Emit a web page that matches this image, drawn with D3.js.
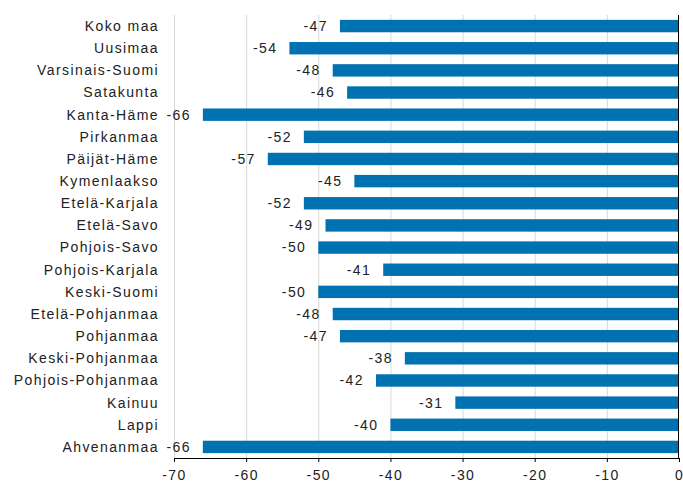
<!DOCTYPE html>
<html>
<head>
<meta charset="utf-8">
<script src="https://cdn.jsdelivr.net/npm/d3@7"></script>
<style>
  body { margin: 0; background: #fff; }
  text { font-family: "Liberation Sans", Arial, sans-serif; letter-spacing: 1.4px; }
</style>
</head>
<body>
<div id="chart"></div>
<script>
  // data
  const regions = [
    "Koko maa", "Uusimaa", "Varsinais-Suomi", "Satakunta", "Kanta-Häme",
    "Pirkanmaa", "Päijät-Häme", "Kymenlaakso", "Etelä-Karjala", "Etelä-Savo",
    "Pohjois-Savo", "Pohjois-Karjala", "Keski-Suomi", "Etelä-Pohjanmaa",
    "Pohjanmaa", "Keski-Pohjanmaa", "Pohjois-Pohjanmaa", "Kainuu", "Lappi",
    "Ahvenanmaa"
  ];
  const values = [-47, -54, -48, -46, -66, -52, -57, -45, -52, -49,
    -50, -41, -50, -48, -47, -38, -42, -31, -40, -66];
  const xTicks = [-70, -60, -50, -40, -30, -20, -10, 0];

  const width = 683, height = 484;
  const margin = { top: 15, right: 4, bottom: 26, left: 174 };

  const svg = d3.select("#chart").append("svg")
    .attr("width", width)
    .attr("height", height);

  const x = d3.scaleLinear()
    .domain([-70, 0])
    .range([margin.left, width - margin.right]);

  const y = d3.scaleBand()
    .domain(regions)
    .range([margin.top, height - margin.bottom])
    .paddingInner(0.44)
    .paddingOuter(0.22);

  // plain hyphen minus, like the reference
  const fmt = d => String(d);

  // gridlines
  svg.append("g")
    .selectAll("line")
    .data(xTicks.filter(t => t !== 0))
    .join("line")
    .attr("x1", d => x(d) + 0.5)
    .attr("x2", d => x(d) + 0.5)
    .attr("y1", margin.top)
    .attr("y2", height - margin.bottom)
    .attr("stroke", "#d9d9d9")
    .attr("stroke-width", 1);

  // bars
  svg.append("g")
    .selectAll("rect")
    .data(values)
    .join("rect")
    .attr("x", d => x(d))
    .attr("y", (d, i) => y(regions[i]))
    .attr("width", d => x(0) - x(d))
    .attr("height", y.bandwidth())
    .attr("fill", "#0072b2");

  // value labels
  svg.append("g")
    .selectAll("text")
    .data(values)
    .join("text")
    .attr("x", d => x(d) - 12)
    .attr("y", (d, i) => y(regions[i]) + y.bandwidth() / 2)
    .attr("dy", "0.35em")
    .attr("text-anchor", "end")
    .attr("font-size", 14)
    .attr("fill", "#222")
    .text(fmt);

  // category labels
  svg.append("g")
    .selectAll("text")
    .data(regions)
    .join("text")
    .attr("x", 159)
    .attr("y", d => y(d) + y.bandwidth() / 2)
    .attr("dy", "0.35em")
    .attr("text-anchor", "end")
    .attr("font-size", 14)
    .attr("fill", "#222")
    .text(d => d);

  // zero line
  svg.append("line")
    .attr("x1", x(0) - 0.5)
    .attr("x2", x(0) - 0.5)
    .attr("y1", margin.top)
    .attr("y2", height - margin.bottom)
    .attr("stroke", "#000");

  // x axis
  const xAxis = d3.axisBottom(x)
    .tickValues(xTicks)
    .tickSize(4)
    .tickPadding(8)
    .tickFormat(fmt);

  const gx = svg.append("g")
    .attr("transform", "translate(0," + (height - margin.bottom) + ")")
    .call(xAxis);
  gx.select(".domain").attr("stroke", "#000");
  gx.selectAll("text")
    .attr("font-size", 14)
    .attr("fill", "#222")
    .style("font-family", "'Liberation Sans', Arial, sans-serif");
</script>
</body>
</html>
